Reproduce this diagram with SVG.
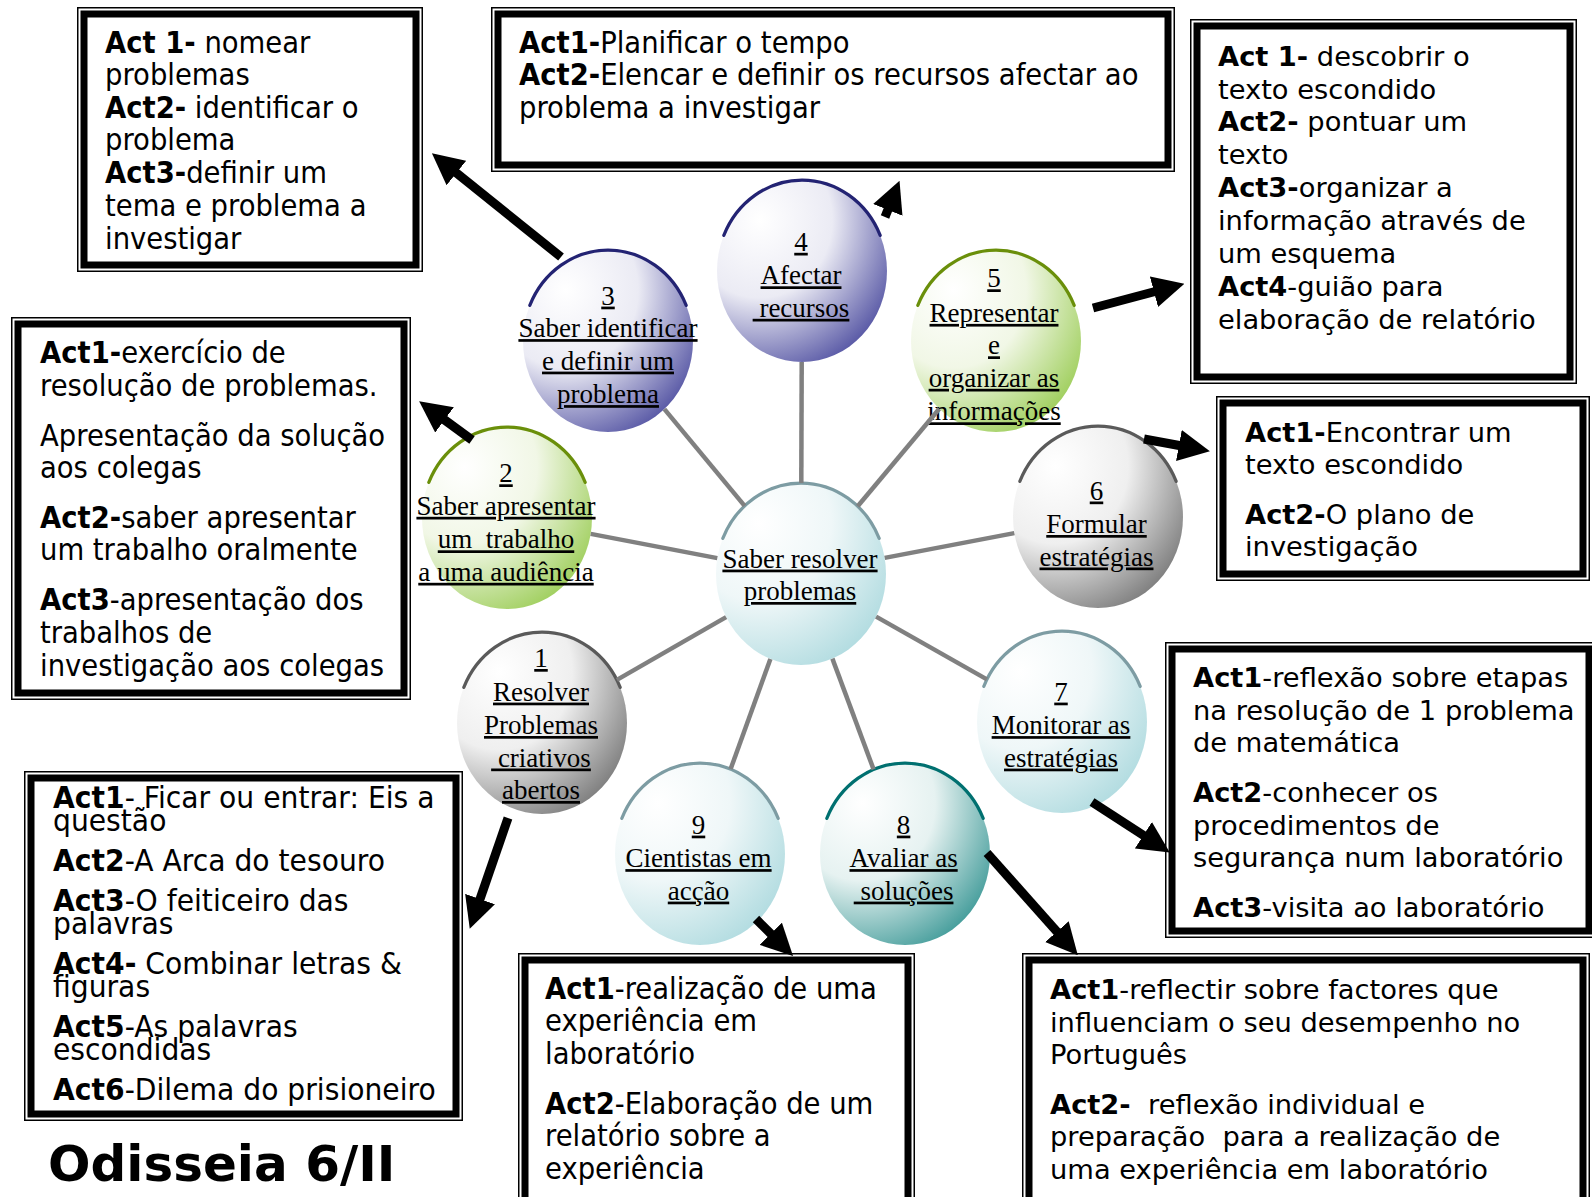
<svg xmlns="http://www.w3.org/2000/svg" width="1592" height="1197" viewBox="0 0 1592 1197">
<style>
.t{font-family:"DejaVu Sans",Verdana,sans-serif;font-size:27.3px;fill:#000;white-space:pre}
.tc{font-family:"DejaVu Sans",Tahoma,sans-serif;font-size:30px;fill:#000;white-space:pre}
.b{font-weight:bold}
.c{font-family:"Liberation Serif","Times New Roman",serif;font-size:27px;fill:#000;text-anchor:middle;text-decoration:underline;white-space:pre}
.title{font-family:"DejaVu Sans",Verdana,sans-serif;font-size:50px;font-weight:bold;fill:#000}
.spoke{stroke:#808080;stroke-width:4.5;fill:none}
.arrow{stroke:#000;stroke-width:9;fill:none;marker-end:url(#ah)}
.f1{fill:#fff;stroke:#000;stroke-width:1.5}
.f2{fill:none;stroke:#000;stroke-width:7}
.arc{fill:none;stroke-width:3.2;stroke-linecap:round}
</style>
<defs>
<marker id="ah" viewBox="0 0 10 10" refX="1" refY="5" markerWidth="3.5" markerHeight="3.5" orient="auto" markerUnits="strokeWidth"><path d="M0,0 L10,5 L0,10 z" fill="#000"/></marker>
<radialGradient id="gGray" cx="0.25" cy="0.22" r="0.95" fx="0.25" fy="0.22"><stop offset="0" stop-color="#fff"/><stop offset="0.45" stop-color="#efefef"/><stop offset="1" stop-color="#6e6e6e"/></radialGradient>
<radialGradient id="gBlue" cx="0.25" cy="0.22" r="0.95" fx="0.25" fy="0.22"><stop offset="0" stop-color="#fff"/><stop offset="0.45" stop-color="#ebebf4"/><stop offset="1" stop-color="#43439a"/></radialGradient>
<radialGradient id="gGreen" cx="0.25" cy="0.22" r="0.95" fx="0.25" fy="0.22"><stop offset="0" stop-color="#fff"/><stop offset="0.45" stop-color="#f1f7e6"/><stop offset="1" stop-color="#94c94a"/></radialGradient>
<radialGradient id="gLTeal" cx="0.25" cy="0.22" r="0.95" fx="0.25" fy="0.22"><stop offset="0" stop-color="#fff"/><stop offset="0.45" stop-color="#eff7f8"/><stop offset="1" stop-color="#a9d8dd"/></radialGradient>
<radialGradient id="gTeal" cx="0.25" cy="0.22" r="0.95" fx="0.25" fy="0.22"><stop offset="0" stop-color="#fff"/><stop offset="0.45" stop-color="#e6f2f1"/><stop offset="1" stop-color="#2e918f"/></radialGradient>
</defs>
<rect width="1592" height="1197" fill="#fff"/>

<!-- circle nodes -->
<g id="center">
<ellipse cx="801" cy="574" rx="85" ry="91" fill="url(#gLTeal)"/>
<path class="arc" stroke="#7d9ca3" d="M722.8,538.4 A85 91 0 0 1 879.2,538.4"/>
<text class="c" x="800" y="567.6">Saber resolver</text>
<text class="c" x="800" y="600">problemas</text>
</g>
<g id="n1">
<ellipse cx="542" cy="723" rx="85" ry="91" fill="url(#gGray)"/>
<path class="arc" stroke="#5a5a5a" d="M463.8,687.4 A85 91 0 0 1 620.2,687.4"/>
<text class="c" x="541" y="667">1</text>
<text class="c" x="541" y="700.6">Resolver</text>
<text class="c" x="541" y="734">Problemas</text>
<text class="c" x="541" y="766.5"> criativos</text>
<text class="c" x="541" y="799">abertos</text>
</g>
<g id="n2">
<ellipse cx="507" cy="518" rx="85" ry="91" fill="url(#gGreen)"/>
<path class="arc" stroke="#6a8f0a" d="M428.8,482.4 A85 91 0 0 1 585.2,482.4"/>
<text class="c" x="506" y="482.3">2</text>
<text class="c" x="506" y="514.8">Saber apresentar</text>
<text class="c" x="506" y="548.3">um  trabalho</text>
<text class="c" x="506" y="580.8">a uma audiência</text>
</g>
<g id="n3">
<ellipse cx="608" cy="341" rx="85" ry="91" fill="url(#gBlue)"/>
<path class="arc" stroke="#232373" d="M529.8,305.4 A85 91 0 0 1 686.2,305.4"/>
<text class="c" x="608" y="304.6">3</text>
<text class="c" x="608" y="337.1">Saber identificar</text>
<text class="c" x="608" y="369.6">e definir um</text>
<text class="c" x="608" y="403.1">problema</text>
</g>
<g id="n4">
<ellipse cx="802" cy="271" rx="85" ry="91" fill="url(#gBlue)"/>
<path class="arc" stroke="#232373" d="M723.8,235.4 A85 91 0 0 1 880.2,235.4"/>
<text class="c" x="801" y="250.8">4</text>
<text class="c" x="801" y="284.3">Afectar</text>
<text class="c" x="801" y="316.8"> recursos</text>
</g>
<g id="n5">
<ellipse cx="996" cy="341" rx="85" ry="91" fill="url(#gGreen)"/>
<path class="arc" stroke="#6a8f0a" d="M917.8,305.4 A85 91 0 0 1 1074.2,305.4"/>
<text class="c" x="994" y="287.3">5</text>
<text class="c" x="994" y="321.9">Representar</text>
<text class="c" x="994" y="354.3">e</text>
<text class="c" x="994" y="386.8">organizar as</text>
<text class="c" x="994" y="420.3">informações</text>
</g>
<g id="n6">
<ellipse cx="1098" cy="517" rx="85" ry="91" fill="url(#gGray)"/>
<path class="arc" stroke="#5a5a5a" d="M1019.8,481.4 A85 91 0 0 1 1176.2,481.4"/>
<text class="c" x="1096.5" y="499.5">6</text>
<text class="c" x="1096.5" y="533">Formular</text>
<text class="c" x="1096.5" y="565.5">estratégias</text>
</g>
<g id="n7">
<ellipse cx="1062" cy="722" rx="85" ry="91" fill="url(#gLTeal)"/>
<path class="arc" stroke="#7d9ca3" d="M983.8,686.4 A85 91 0 0 1 1140.2,686.4"/>
<text class="c" x="1061" y="700.6">7</text>
<text class="c" x="1061" y="734.1">Monitorar as</text>
<text class="c" x="1061" y="766.6">estratégias</text>
</g>
<g id="n8">
<ellipse cx="905" cy="854" rx="85" ry="91" fill="url(#gTeal)"/>
<path class="arc" stroke="#007070" d="M826.8,818.4 A85 91 0 0 1 983.2,818.4"/>
<text class="c" x="903.6" y="833.6">8</text>
<text class="c" x="903.6" y="867.1">Avaliar as</text>
<text class="c" x="903.6" y="899.6"> soluções</text>
</g>
<g id="n9">
<ellipse cx="700" cy="854" rx="85" ry="91" fill="url(#gLTeal)"/>
<path class="arc" stroke="#7d9ca3" d="M621.8,818.4 A85 91 0 0 1 778.2,818.4"/>
<text class="c" x="698.5" y="833.6">9</text>
<text class="c" x="698.5" y="867.1">Cientistas em</text>
<text class="c" x="698.5" y="899.6">acção</text>
</g>

<!-- activity boxes -->
<g id="boxA">
<rect class="f1" x="77.75" y="7.75" width="344.5" height="263.5"/>
<rect class="f2" x="84" y="14" width="332" height="251"/>
<g transform="translate(105 0) scale(0.915 1)">
<text class="tc" x="0" y="53"><tspan class="b">Act 1-</tspan> nomear</text>
<text class="tc" x="0" y="85.3">problemas</text>
<text class="tc" x="0" y="117.8"><tspan class="b">Act2-</tspan> identificar o</text>
<text class="tc" x="0" y="150.3">problema</text>
<text class="tc" x="0" y="182.8"><tspan class="b">Act3-</tspan>definir um</text>
<text class="tc" x="0" y="216.3">tema e problema a</text>
<text class="tc" x="0" y="248.7">investigar</text>
</g>
</g>
<g id="boxB">
<rect class="f1" x="491.75" y="7.75" width="682.5" height="163.5"/>
<rect class="f2" x="498" y="14" width="670" height="151"/>
<g transform="translate(519 0) scale(0.915 1)">
<text class="tc" x="0" y="53"><tspan class="b">Act1-</tspan>Planificar o tempo</text>
<text class="tc" x="0" y="85.3"><tspan class="b">Act2-</tspan>Elencar e definir os recursos afectar ao</text>
<text class="tc" x="0" y="117.8">problema a investigar</text>
</g>
</g>
<g id="boxC">
<rect class="f1" x="1190.75" y="19.75" width="385.5" height="363.5"/>
<rect class="f2" x="1197" y="26" width="373" height="351"/>
<text class="t" x="1218" y="66"><tspan class="b">Act 1-</tspan> descobrir o</text>
<text class="t" x="1218" y="98.5">texto escondido</text>
<text class="t" x="1218" y="131"><tspan class="b">Act2-</tspan> pontuar um</text>
<text class="t" x="1218" y="163.5">texto</text>
<text class="t" x="1218" y="197"><tspan class="b">Act3-</tspan>organizar a</text>
<text class="t" x="1218" y="229.5">informação através de</text>
<text class="t" x="1218" y="263">um esquema</text>
<text class="t" x="1218" y="295.5"><tspan class="b">Act4</tspan>-guião para</text>
<text class="t" x="1218" y="329">elaboração de relatório</text>
</g>
<g id="boxD">
<rect class="f1" x="11.75" y="317.75" width="398.5" height="381.5"/>
<rect class="f2" x="18" y="324" width="386" height="369"/>
<g transform="translate(40 0) scale(0.915 1)">
<text class="tc" x="0" y="363.5"><tspan class="b">Act1-</tspan>exercício de</text>
<text class="tc" x="0" y="396">resolução de problemas.</text>
<text class="tc" x="0" y="445.7">Apresentação da solução</text>
<text class="tc" x="0" y="478.2">aos colegas</text>
<text class="tc" x="0" y="528"><tspan class="b">Act2-</tspan>saber apresentar</text>
<text class="tc" x="0" y="560.4">um trabalho oralmente</text>
<text class="tc" x="0" y="610.2"><tspan class="b">Act3</tspan>-apresentação dos</text>
<text class="tc" x="0" y="642.7">trabalhos de</text>
<text class="tc" x="0" y="676.2">investigação aos colegas</text>
</g>
</g>
<g id="boxE">
<rect class="f1" x="1216.75" y="396.75" width="372.5" height="183.5"/>
<rect class="f2" x="1223" y="403" width="360" height="171"/>
<text class="t" x="1245" y="441.7"><tspan class="b">Act1-</tspan>Encontrar um</text>
<text class="t" x="1245" y="474.1">texto escondido</text>
<text class="t" x="1245" y="523.9"><tspan class="b">Act2-</tspan>O plano de</text>
<text class="t" x="1245" y="556.4">investigação</text>
</g>
<g id="boxF">
<rect class="f1" x="1165.75" y="642.75" width="429.5" height="294.5"/>
<rect class="f2" x="1172" y="649" width="417" height="282"/>
<text class="t" x="1193" y="687.4"><tspan class="b">Act1</tspan>-reflexão sobre etapas</text>
<text class="t" x="1193" y="719.8">na resolução de 1 problema</text>
<text class="t" x="1193" y="752.3">de matemática</text>
<text class="t" x="1193" y="802.1"><tspan class="b">Act2</tspan>-conhecer os</text>
<text class="t" x="1193" y="834.6">procedimentos de</text>
<text class="t" x="1193" y="867.1">segurança num laboratório</text>
<text class="t" x="1193" y="916.8"><tspan class="b">Act3</tspan>-visita ao laboratório</text>
</g>
<g id="boxG">
<rect class="f1" x="24.75" y="771.75" width="437.5" height="348.5"/>
<rect class="f2" x="31" y="778" width="425" height="336"/>
<g transform="translate(53 0) scale(0.94 1)">
<text class="tc" x="0" y="808.2"><tspan class="b">Act1</tspan>- Ficar ou entrar: Eis a</text>
<text class="tc" x="0" y="831.5">questão</text>
<text class="tc" x="0" y="871.1"><tspan class="b">Act2</tspan>-A Arca do tesouro</text>
<text class="tc" x="0" y="910.7"><tspan class="b">Act3</tspan>-O feiticeiro das</text>
<text class="tc" x="0" y="934.1">palavras</text>
<text class="tc" x="0" y="973.7"><tspan class="b">Act4-</tspan> Combinar letras &amp;</text>
<text class="tc" x="0" y="997">figuras</text>
<text class="tc" x="0" y="1036.6"><tspan class="b">Act5</tspan>-As palavras</text>
<text class="tc" x="0" y="1060">escondidas</text>
<text class="tc" x="0" y="1099.6"><tspan class="b">Act6</tspan>-Dilema do prisioneiro</text>
</g>
</g>
<g id="boxH">
<rect class="f1" x="518.75" y="953.75" width="395.5" height="260"/>
<rect class="f2" x="525" y="960" width="383" height="248"/>
<g transform="translate(545 0) scale(0.915 1)">
<text class="tc" x="0" y="999.1"><tspan class="b">Act1</tspan>-realização de uma</text>
<text class="tc" x="0" y="1031.5">experiência em</text>
<text class="tc" x="0" y="1064">laboratório</text>
<text class="tc" x="0" y="1113.8"><tspan class="b">Act2</tspan>-Elaboração de um</text>
<text class="tc" x="0" y="1146.3">relatório sobre a</text>
<text class="tc" x="0" y="1178.8">experiência</text>
</g>
</g>
<g id="boxI">
<rect class="f1" x="1022.75" y="953.75" width="566.5" height="260"/>
<rect class="f2" x="1029" y="960" width="554" height="248"/>
<text class="t" x="1050" y="999.1"><tspan class="b">Act1</tspan>-reflectir sobre factores que</text>
<text class="t" x="1050" y="1031.5">influenciam o seu desempenho no</text>
<text class="t" x="1050" y="1064">Português</text>
<text class="t" x="1050" y="1113.8"><tspan class="b">Act2-</tspan>  reflexão individual e</text>
<text class="t" x="1050" y="1146.3">preparação  para a realização de</text>
<text class="t" x="1050" y="1178.8">uma experiência em laboratório</text>
</g>

<g id="title">
<text class="title" x="48" y="1181">Odisseia 6/II</text>
</g>

<!-- connectors -->
<g id="connectors">
<line class="spoke" x1="726.1" y1="617.1" x2="616.9" y2="679.9"/>
<line class="spoke" x1="717.3" y1="558.1" x2="590.7" y2="533.9"/>
<line class="spoke" x1="744.6" y1="505.9" x2="664.4" y2="409.1"/>
<line class="spoke" x1="801.3" y1="483" x2="801.7" y2="362"/>
<line class="spoke" x1="857.7" y1="506.2" x2="939.3" y2="408.8"/>
<line class="spoke" x1="884.7" y1="557.9" x2="1014.3" y2="533.1"/>
<line class="spoke" x1="876.1" y1="616.6" x2="986.9" y2="679.4"/>
<line class="spoke" x1="832.4" y1="658.6" x2="873.6" y2="769.4"/>
<line class="spoke" x1="770.4" y1="658.9" x2="730.6" y2="769.1"/>
<line class="arrow" x1="561" y1="257" x2="454" y2="171"/>
<line class="arrow" x1="885" y1="217" x2="889" y2="207"/>
<line class="arrow" x1="1093" y1="308" x2="1157" y2="291"/>
<line class="arrow" x1="1144" y1="439" x2="1182" y2="446"/>
<line class="arrow" x1="472" y1="440" x2="442" y2="418"/>
<line class="arrow" x1="508" y1="818" x2="479" y2="902"/>
<line class="arrow" x1="1092" y1="802" x2="1146" y2="837"/>
<line class="arrow" x1="756" y1="919" x2="773" y2="936"/>
<line class="arrow" x1="987" y1="853" x2="1059" y2="934"/>
</g>
</svg>
